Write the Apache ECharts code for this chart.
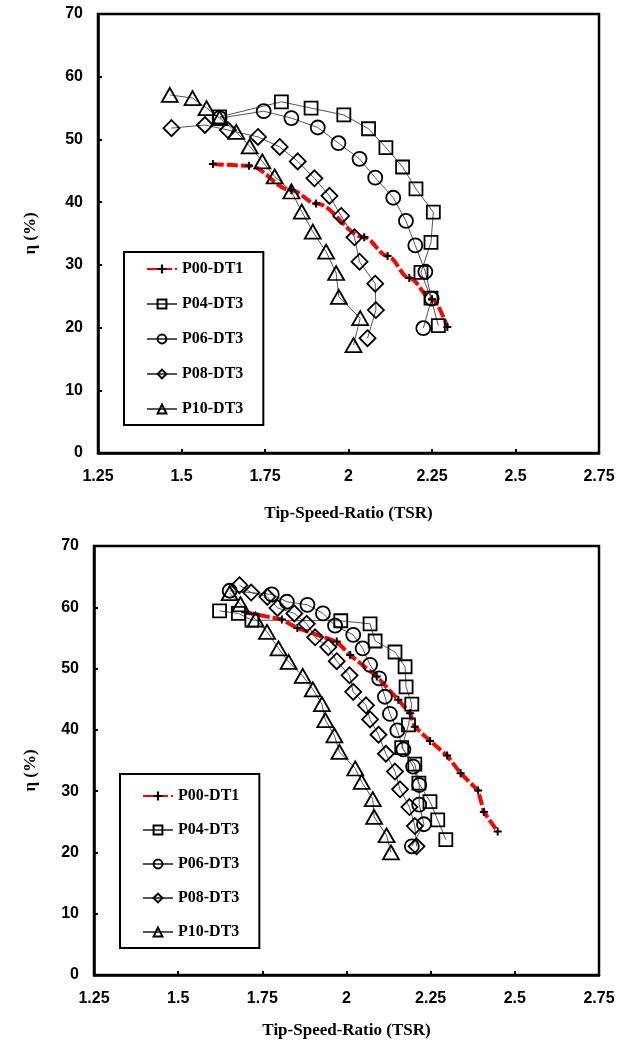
<!DOCTYPE html>
<html><head><meta charset="utf-8">
<script src="https://cdn.jsdelivr.net/npm/echarts@6/dist/echarts.min.js"></script>
<style>html,body{margin:0;padding:0;background:#fff}#c{width:629px;height:1048px}</style>
</head><body><div id="c"></div>
<script>
const seriesNames = ['P00-DT1','P04-DT3','P06-DT3','P08-DT3','P10-DT3'];
const xTicks = ['1.25','1.5','1.75','2','2.25','2.5','2.75'];

// Top chart
const topP00X = [1.594,1.702,1.829,1.903,2.047,2.117,2.182,2.250,2.296];
const topP00Y = [46.1,45.8,41.9,39.8,34.4,31.4,27.9,24.5,20.1];
const topP04X = [1.614,1.799,1.888,1.986,2.060,2.112,2.162,2.202,2.254,2.247,2.217,2.247,2.269];
const topP04Y = [53.6,56.0,55.0,53.9,51.7,48.7,45.6,42.1,38.4,33.6,28.8,24.7,20.3];
const topP06X = [1.614,1.746,1.829,1.908,1.970,2.033,2.080,2.134,2.172,2.200,2.230,2.249,2.224];
const topP06Y = [53.4,54.5,53.4,51.9,49.4,46.9,43.9,40.7,37.0,33.1,28.9,24.6,19.9];
const topP08X = [1.470,1.570,1.639,1.729,1.794,1.848,1.898,1.943,1.978,2.018,2.033,2.080,2.082,2.057];
const topP08Y = [51.8,52.3,51.5,50.4,48.8,46.5,43.8,41.0,37.8,34.4,30.5,27.0,22.8,18.3];
const topP10X = [1.465,1.533,1.575,1.614,1.664,1.704,1.742,1.779,1.829,1.860,1.893,1.933,1.963,1.971,2.035,2.015];
const topP10Y = [57.1,56.6,55.0,53.4,51.2,48.9,46.5,44.1,41.7,38.5,35.3,32.1,28.7,24.9,21.5,17.2];

// Bottom chart
const botP00X = [1.699,1.808,1.854,1.971,2.011,2.090,2.154,2.189,2.203,2.248,2.299,2.339,2.391,2.408,2.449];
const botP00Y = [59.2,58.0,56.6,54.4,52.2,48.7,44.9,42.7,40.5,38.2,35.8,32.9,30.1,26.6,23.4];
const botP04X = [1.623,1.679,1.719,1.983,2.070,2.085,2.144,2.174,2.177,2.194,2.184,2.164,2.203,2.215,2.248,2.271,2.295];
const botP04Y = [59.4,59.0,57.9,57.8,57.3,54.5,52.7,50.3,47.0,44.2,40.8,37.1,34.4,31.3,28.3,25.3,22.1];
const botP06X = [1.653,1.778,1.823,1.884,1.930,1.966,2.020,2.048,2.070,2.097,2.114,2.129,2.151,2.169,2.198,2.216,2.216,2.230,2.194];
const botP06Y = [62.7,62.1,60.9,60.4,59.0,57.0,55.5,53.3,50.6,48.4,45.4,42.6,39.9,36.8,34.0,31.0,27.8,24.6,21.0];
const botP08X = [1.682,1.717,1.765,1.795,1.845,1.882,1.907,1.946,1.971,2.009,2.020,2.058,2.070,2.095,2.117,2.144,2.159,2.187,2.203,2.208];
const botP08Y = [63.6,62.4,61.7,59.9,59.0,57.3,55.1,53.5,51.2,48.9,46.2,44.0,41.7,39.2,36.1,33.2,30.3,27.4,24.3,21.0];
const botP10X = [1.653,1.685,1.730,1.764,1.798,1.828,1.870,1.900,1.927,1.937,1.964,1.979,2.026,2.045,2.078,2.082,2.119,2.132];
const botP10Y = [62.3,60.5,58.0,56.0,53.3,51.1,48.8,46.6,44.2,41.6,39.1,36.4,33.7,31.5,28.7,25.8,22.8,20.0];

const zip = (xs, ys) => xs.map((x, i) => [x, ys[i]]);
const PLUS = 'path://M-1,-4H1V-1H4V1H1V4H-1V1H-4V-1H-1Z';
const SANS = 'Liberation Sans';
const SERIF = 'Liberation Serif';

const marks = {
  'P04-DT3': { symbol: 'rect', size: 13 },
  'P06-DT3': { symbol: 'circle', size: 14 },
  'P08-DT3': { symbol: 'diamond', size: 16 },
  'P10-DT3': { symbol: 'triangle', size: [16, 14] }
};

function mk(name, xs, ys, gi, smooth) {
  const base = { name, type: 'line', xAxisIndex: gi, yAxisIndex: gi, data: zip(xs, ys), animation: false };
  if (name === 'P00-DT1') {
    return Object.assign(base, {
      symbol: PLUS, symbolSize: 8, smooth: smooth ? 0.35 : false, smoothMonotone: 'x',
      itemStyle: { color: '#000' },
      lineStyle: { color: '#ff0000', width: 4, type: [11, 3] }
    });
  }
  const m = marks[name];
  return Object.assign(base, {
    symbol: m.symbol, symbolSize: m.size, showAllSymbol: true,
    itemStyle: { color: 'rgba(0,0,0,0)', borderColor: '#000', borderWidth: 1.8 },
    lineStyle: { color: '#555', width: 1 }
  });
}

function xAx(gi, gap, margin) {
  return {
    gridIndex: gi, type: 'value', min: 1.25, max: 2.75, interval: 0.25,
    name: 'Tip-Speed-Ratio (TSR)', nameLocation: 'middle', nameGap: gap,
    nameTextStyle: { fontFamily: SERIF, fontWeight: 'bold', fontSize: 17, color: '#000' },
    axisLine: { show: true, lineStyle: { color: '#000', width: 2.5 } },
    axisTick: { show: true, inside: true, length: 4, lineStyle: { color: '#000', width: 2 } },
    axisLabel: { fontFamily: SANS, fontWeight: 'bold', fontSize: 16, color: '#000', margin: margin,
      formatter: v => xTicks[Math.round((v - 1.25) / 0.25)] },
    splitLine: { show: false }
  };
}
function yAx(gi, gap, pad) {
  return {
    gridIndex: gi, type: 'value', min: 0, max: 70, interval: 10,
    name: 'η (%)', nameLocation: 'middle', nameGap: gap, nameRotate: 90,
    nameTextStyle: { fontFamily: SERIF, fontWeight: 'bold', fontSize: 17, color: '#000', padding: pad },
    axisLine: { show: true, lineStyle: { color: '#000', width: 2.5 } },
    axisTick: { show: true, inside: true, length: 4, lineStyle: { color: '#000', width: 2 } },
    axisLabel: { fontFamily: SANS, fontWeight: 'bold', fontSize: 16, color: '#000', margin: 15 },
    splitLine: { show: false }
  };
}
function leg(left, top, pad, gap) {
  return {
    data: seriesNames, orient: 'vertical', left, top, padding: pad, itemGap: gap,
    itemWidth: 30, itemHeight: 11, borderColor: '#000', borderWidth: 2, backgroundColor: '#fff',
    selectedMode: false,
    textStyle: { fontFamily: SERIF, fontWeight: 'bold', fontSize: 16, color: '#000', lineHeight: 18 }
  };
}

const chart = echarts.init(document.getElementById('c'), null, { renderer: 'canvas' });
chart.setOption({
  backgroundColor: '#fff',
  animation: false,
  grid: [
    { left: 98, top: 14, width: 501, height: 439, show: true, borderColor: '#000', borderWidth: 2.5, backgroundColor: 'rgba(0,0,0,0)' },
    { left: 94, top: 546, width: 505, height: 429, show: true, borderColor: '#000', borderWidth: 2.5, backgroundColor: 'rgba(0,0,0,0)' }
  ],
  xAxis: [xAx(0, 52, 16), xAx(1, 47, 16)],
  yAxis: [yAx(0, 59, 0), yAx(1, 55, [0, 20, 0, 0])],
  legend: [leg(124, 252, [8, 20, 7, 22], 17), leg(120, 774, [13, 20, 7, 22], 16)],
  series: [
    mk('P00-DT1', topP00X, topP00Y, 0, true),
    mk('P04-DT3', topP04X, topP04Y, 0),
    mk('P06-DT3', topP06X, topP06Y, 0),
    mk('P08-DT3', topP08X, topP08Y, 0),
    mk('P10-DT3', topP10X, topP10Y, 0),
    mk('P00-DT1', botP00X, botP00Y, 1, false),
    mk('P04-DT3', botP04X, botP04Y, 1),
    mk('P06-DT3', botP06X, botP06Y, 1),
    mk('P08-DT3', botP08X, botP08Y, 1),
    mk('P10-DT3', botP10X, botP10Y, 1)
  ]
});
</script></body></html>
